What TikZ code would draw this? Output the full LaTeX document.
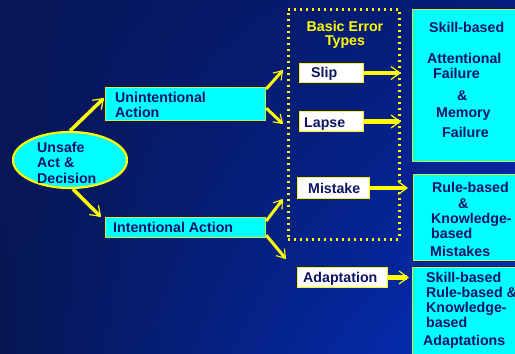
\documentclass[tikz,border=0pt]{standalone}
\usepackage{fontspec}
\setmainfont{Liberation Sans}
\usetikzlibrary{arrows.meta,shapes.geometric,calc,shadings}
\definecolor{navytxt}{RGB}{14,20,98}
\definecolor{bgTL}{RGB}{8,22,86}
\definecolor{bgTR}{RGB}{4,30,125}
\definecolor{bgBL}{RGB}{6,22,82}
\definecolor{bgBR}{RGB}{4,48,195}
\definecolor{boxcyan}{RGB}{0,255,255}
\definecolor{ylw}{RGB}{255,255,0}
\definecolor{edgeylw}{RGB}{210,235,60}
\begin{document}
\begin{tikzpicture}[x=1pt,y=-1pt,
  font=\fontsize{14.2}{16}\selectfont\bfseries,
  txt/.style={anchor=base west, inner sep=0pt, text=navytxt},
  ytxt/.style={anchor=base, inner sep=0pt, text=ylw},
  cyanbox/.style={draw=edgeylw, line width=1.2pt, fill=boxcyan, anchor=north west, inner sep=0pt},
  whitebox/.style={draw=ylw, line width=1pt, fill=white, anchor=north west, inner sep=0pt},
  tip/.style={-{Straight Barb[length=9pt,width=13pt,line width=1.2pt]}},
  bigarrow/.style={draw=ylw, line width=4.5pt, tip},
  midarrow/.style={draw=ylw, line width=3.5pt, tip},
  smallarrow/.style={draw=ylw, line width=3pt, -{Straight Barb[length=8pt,width=11pt,line width=1.1pt]}}]

\clip (0,0) rectangle (515,354);
\useasboundingbox (0,0) rectangle (515,354);

% background: dark navy, brightening towards the lower right
\shade[upper left=bgTL, upper right=bgTR, lower left=bgBL, lower right=bgBR]
  (0,0) rectangle (515,354);

% root ellipse
\node[ellipse, draw=ylw, line width=2.2pt, fill=boxcyan,
      minimum width=114pt, minimum height=56pt] (ell) at (70,160) {};
\node[txt] (e1) at (37,152) {Unsafe};
\node[txt] (e2) at (37,167) {Act \&};
\node[txt] (e3) at (37,183) {Decision};

% first level
\node[cyanbox, minimum width=160pt, minimum height=33pt] (una) at (105,87) {};
\node[txt] (u1) at (115,102) {Unintentional};
\node[txt] (u2) at (115,117) {Action};
\node[cyanbox, minimum width=160pt, minimum height=20pt] (ina) at (105,217) {};
\node[txt] (i1) at (113,232) {Intentional Action};

% dotted frame of the basic error types
\node[draw=ylw, line width=2.6pt, dash pattern=on 2pt off 4pt, anchor=north west,
      minimum width=111pt, minimum height=230pt, inner sep=0pt] (frame) at (287,8) {};
\node[ytxt] (b1) at (345,31) {Basic Error};
\node[ytxt] (b2) at (345,45.5) {Types};

% error type boxes
\node[whitebox, minimum width=64pt, minimum height=19pt] (slip) at (299,63) {};
\node[txt] (s1) at (311,77) {Slip};
\node[whitebox, minimum width=64pt, minimum height=20pt] (lapse) at (299,111) {};
\node[txt] (l1) at (304,127) {Lapse};
\node[whitebox, minimum width=72pt, minimum height=21pt] (mist) at (297,177) {};
\node[txt] (m1) at (308,193) {Mistake};
\node[whitebox, minimum width=90pt, minimum height=20pt] (adapt) at (297,267) {};
\node[txt] (a1) at (303,282) {Adaptation};

% result boxes
\node[cyanbox, minimum width=110pt, minimum height=152pt] (skill) at (412,9) {};
\node[txt] (k1) at (429,32) {Skill-based};
\node[txt] (k2) at (427,63) {Attentional};
\node[txt] (k3) at (433,78) {Failure};
\node[txt] (k4) at (457,100) {\&};
\node[txt] (k5) at (436,117) {Memory};
\node[txt] (k6) at (442,137) {Failure};

\node[cyanbox, minimum width=110pt, minimum height=86pt] (rule) at (413,174) {};
\node[txt] (r1) at (432,192) {Rule-based};
\node[txt] (r2) at (458,208) {\&};
\node[txt] (r3) at (431,223) {Knowledge-};
\node[txt] (r4) at (431,238) {based};
\node[txt] (r5) at (430,256) {Mistakes};

\node[cyanbox, minimum width=110pt, minimum height=95pt] (adres) at (412,267) {};
\node[txt] (d1) at (426,282) {Skill-based};
\node[txt] (d2) at (426,297) {Rule-based \&};
\node[txt] (d3) at (426,312) {Knowledge-};
\node[txt] (d4) at (426,327) {based};
\node[txt] (d5) at (423,345) {Adaptations};

% free ends of the branching arrows
\coordinate (toUna) at (104,98);
\coordinate (toIna) at (101,217);
\coordinate (toSlip) at (283,70);
\coordinate (toLapse) at (283,124);
\coordinate (toMist) at (283,199);
\coordinate (toAdapt) at (286,259);

% connectors
\draw[midarrow] (ell.north) -- (toUna);
\draw[midarrow] ($(ell.south)+(3,0)$) -- (toIna);
\draw[smallarrow] ($(una.north east)+(0,2)$) -- (toSlip);
\draw[smallarrow] ($(una.east)+(0,4)$) -- (toLapse);
\draw[smallarrow] ($(ina.north east)+(0,4)$) -- (toMist);
\draw[smallarrow] ($(ina.south east)+(0,-3)$) -- (toAdapt);

\draw[bigarrow] (slip.east) -- ++(37,0) coordinate (slipTip);
\draw[bigarrow] (lapse.east) -- ++(37,0) coordinate (lapseTip);
\draw[bigarrow] (mist.east) -- ++(38,0) coordinate (mistTip);
\draw[bigarrow] (adapt.east) -- ++(21,0) coordinate (adaptTip);
\end{tikzpicture}
\end{document}
